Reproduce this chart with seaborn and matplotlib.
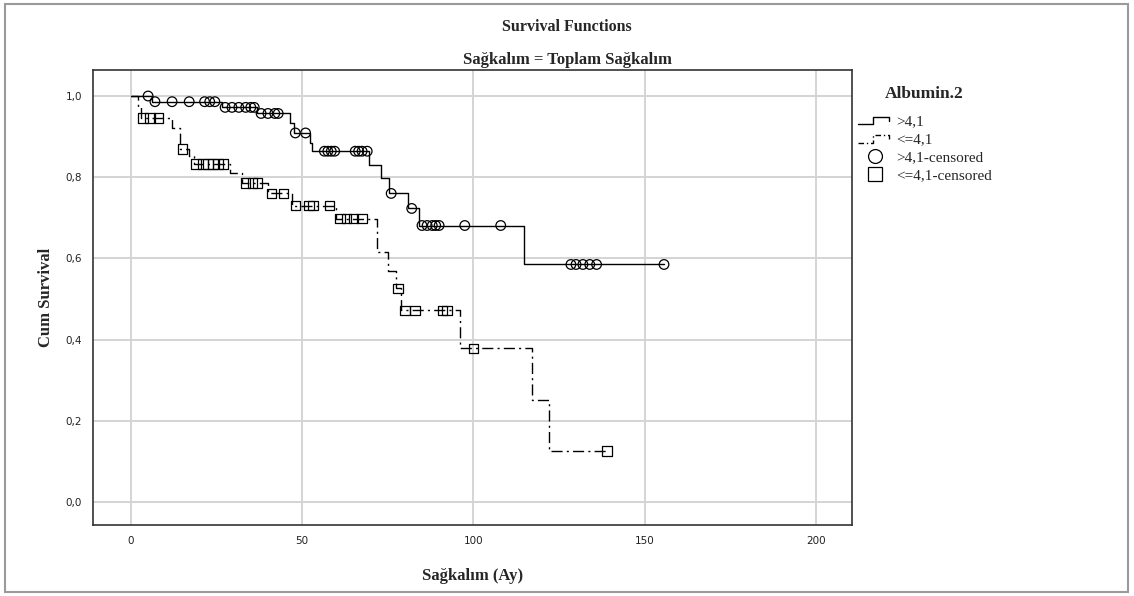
import numpy as np
import pandas as pd
import matplotlib
matplotlib.use("Agg")
import matplotlib.pyplot as plt
import seaborn as sns
from matplotlib.lines import Line2D
from matplotlib.patches import Rectangle
from matplotlib.legend_handler import HandlerLine2D

# group labels
groups = [">4,1", "<=4,1"]

# >4,1 : event times and survival after each event
hi_event_t = [6, 26.5, 36.8, 46.5, 47.5, 52.3, 53, 69.5, 73, 75.5, 81, 84, 114.8]
hi_event_s = [0.986, 0.972, 0.957, 0.933, 0.909, 0.885, 0.864, 0.830, 0.797, 0.760, 0.723, 0.681, 0.585]
hi_cens_t = [5, 7, 12, 17, 21.5, 23, 24.5, 27.5, 29.5, 31.5, 33.5, 35, 36, 38, 40, 42, 43,
             48, 51, 56.5, 57.5, 58.5, 59.5, 65.5, 66.5, 67.5, 69, 76, 82, 85, 86.5, 88, 89, 90,
             97.5, 108, 128.5, 130, 132, 134, 136, 155.7]

# <=4,1
lo_event_t = [2, 3, 12, 14.3, 17, 18.5, 29, 32.5, 40, 47, 60, 72, 75, 77.5, 79, 96, 117, 122]
lo_event_s = [0.973, 0.946, 0.920, 0.870, 0.852, 0.833, 0.810, 0.786, 0.760, 0.730, 0.698,
              0.615, 0.568, 0.526, 0.472, 0.378, 0.252, 0.126]
lo_cens_t = [3.5, 5.5, 8, 15, 19, 21, 22.5, 24, 25.5, 27, 33.5, 35.5, 37, 41, 44.5,
             48, 52, 53.2, 58, 61, 63, 65, 67.5, 78, 80, 83, 91, 92.3, 100, 139]

x_ticks = [0, 50, 100, 150, 200]
y_ticks = [0.0, 0.2, 0.4, 0.6, 0.8, 1.0]


def step_value(ev_t, ev_s, t):
    idx = np.searchsorted(np.array(ev_t), t, side="right")
    vals = np.concatenate([[1.0], ev_s])
    return vals[idx]


def build_frames():
    line_rows = []
    cens_rows = []
    for g, et, es, ct in [(groups[0], hi_event_t, hi_event_s, hi_cens_t),
                          (groups[1], lo_event_t, lo_event_s, lo_cens_t)]:
        line_rows.append((g, 0.0, 1.0))
        for t, s in zip(et, es):
            line_rows.append((g, t, s))
        last = max(ct)
        line_rows.append((g, last, step_value(et, es, last)))
        for t in ct:
            cens_rows.append((g, t, step_value(et, es, t)))
    line_df = pd.DataFrame(line_rows, columns=["group", "t", "s"])
    cens_df = pd.DataFrame(cens_rows, columns=["group", "t", "s"])
    return line_df, cens_df


class StepHandler(HandlerLine2D):
    def create_artists(self, legend, orig_handle, xdescent, ydescent, width, height, fontsize, trans):
        xs = np.array([0, 0.45, 0.45, 0.9, 0.9]) * width - xdescent
        ys = np.array([0.05, 0.05, 0.75, 0.75, 0.35]) * height - ydescent
        line = Line2D(xs, ys)
        self.update_prop(line, orig_handle, legend)
        line.set_transform(trans)
        return [line]


def main():
    sns.set_theme(style="whitegrid")
    plt.rcParams["font.family"] = ["DejaVu Sans"]
    serif = "Liberation Serif"

    line_df, cens_df = build_frames()

    fig = plt.figure(figsize=(11.34, 5.96), dpi=100)
    ax = fig.add_axes([0.082, 0.119, 0.6693, 0.7635])
    ax.set_facecolor("white")

    sns.lineplot(data=line_df, x="t", y="s", hue="group", style="group",
                 palette={groups[0]: "black", groups[1]: "black"},
                 dashes={groups[0]: "", groups[1]: (8, 3, 1.5, 3)},
                 drawstyle="steps-post", estimator=None, sort=True,
                 lw=1, legend=False, ax=ax)

    for g, m in zip(groups, ["o", "s"]):
        sub = cens_df[cens_df["group"] == g]
        sns.scatterplot(data=sub, x="t", y="s", marker=m, s=48,
                        facecolors="none", edgecolors="black", linewidth=0.9,
                        legend=False, ax=ax, zorder=3)

    ax.set_xlim(-11.1, 210.6)
    ax.set_ylim(-0.057, 1.064)
    ax.set_xticks(x_ticks)
    ax.set_yticks(y_ticks)
    ax.set_yticklabels([f"{v:.1f}".replace(".", ",") for v in y_ticks])
    ax.tick_params(labelsize=7.5, colors="#222222", length=0, pad=8)
    ax.grid(True, color="#d4d4d4", lw=1.4)
    for sp in ax.spines.values():
        sp.set_color("#333333")
        sp.set_linewidth(1.2)

    ax.set_xlabel("Sağkalım (Ay)", family=serif, weight="bold", fontsize=12, labelpad=16)
    ax.set_ylabel("Cum Survival", family=serif, weight="bold", fontsize=12, labelpad=8)

    fig.text(0.5, 0.954, "Survival Functions", ha="center", va="center",
             family=serif, weight="bold", fontsize=11.5)
    fig.text(0.5, 0.899, "Sağkalım = Toplam Sağkalım", ha="center", va="center",
             family=serif, weight="bold", fontsize=12)

    handles = [Line2D([], [], color="black", lw=1),
               Line2D([], [], color="black", lw=1, dashes=(4, 2, 1, 2)),
               Line2D([], [], ls="none", marker="o", mfc="none", mec="black", ms=10, mew=0.9),
               Line2D([], [], ls="none", marker="s", mfc="none", mec="black", ms=10, mew=0.9)]
    labels = [">4,1", "<=4,1", ">4,1-censored", "<=4,1-censored"]
    leg = ax.legend(handles, labels, loc="upper left", bbox_to_anchor=(850 / 1134, 1 - 78 / 596),
                    bbox_transform=fig.transFigure, frameon=False, borderpad=0,
                    handlelength=2.3, handletextpad=0.2, labelspacing=0.3,
                    title="Albumin.2", alignment="center",
                    handler_map={handles[0]: StepHandler(), handles[1]: StepHandler()},
                    prop={"family": serif, "size": 11},
                    title_fontproperties={"family": serif, "weight": "bold", "size": 12.5})
    leg._legend_box.sep = 9

    fig.patches.append(Rectangle((0.004, 0.006), 0.991, 0.988, transform=fig.transFigure,
                                 fill=False, edgecolor="#9a9a9a", lw=1.5))

    fig.savefig("out.png", dpi=100)


if __name__ == "__main__":
    main()
